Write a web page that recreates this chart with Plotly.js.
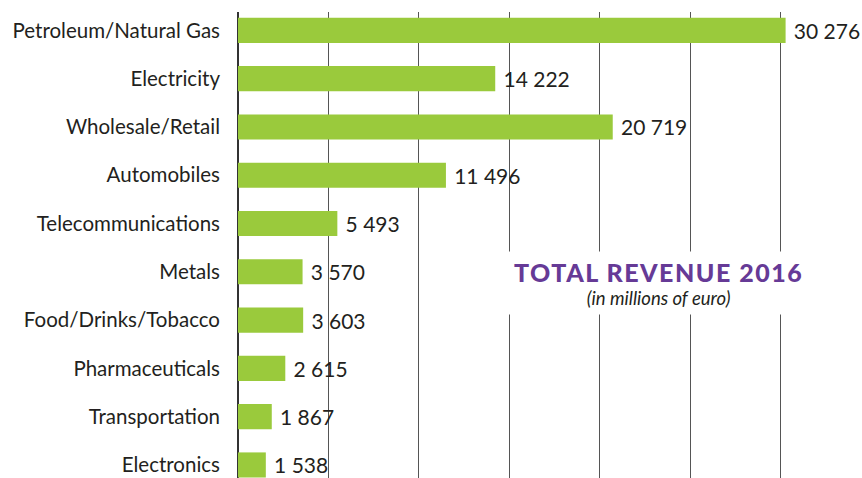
<!DOCTYPE html>
<html>
<head>
<meta charset="utf-8">
<script src="https://cdn.plot.ly/plotly-3.0.1.min.js"></script>
<style>html,body{margin:0;padding:0;background:#fff;}#chart{width:862px;height:478px;}</style>
</head>
<body>
<div id="chart"></div>
<script>
const categories = ["Petroleum/Natural Gas", "Electricity", "Wholesale/Retail", "Automobiles", "Telecommunications", "Metals", "Food/Drinks/Tobacco", "Pharmaceuticals", "Transportation", "Electronics"];
const revenue = [30276, 14222, 20719, 11496, 5493, 3570, 3603, 2615, 1867, 1538];
const valueLabels = revenue.map(v => "\u2005" + String(v).replace(/\B(?=(\d{3})+(?!\d))/g, "\u00a0"));

const trace = {
  type: "bar",
  orientation: "h",
  y: categories,
  x: revenue,
  text: valueLabels,
  textposition: "outside",
  textfont: {family: "Lato, sans-serif", size: 21, color: "#231f20"},
  cliponaxis: false,
  marker: {color: "#9aca3c"},
  hoverinfo: "none"
};

const layout = {
  width: 862, height: 478,
  margin: {l: 238, r: 0, t: 12, b: 0},
  paper_bgcolor: "#fff", plot_bgcolor: "#fff",
  showlegend: false,
  bargap: 0.48,
  font: {family: "Lato, sans-serif", color: "#231f20"},
  xaxis: {
    range: [0, 34500],
    dtick: 5000,
    showticklabels: false,
    showgrid: true, gridcolor: "#555", gridwidth: 1,
    zeroline: true, zerolinecolor: "#333", zerolinewidth: 1.5,
    showline: false, fixedrange: true
  },
  yaxis: {
    type: "category",
    range: [9.27, -0.38],
    showgrid: false, zeroline: false, showline: false,
    ticks: "",
    ticklabelstandoff: 17,
    tickfont: {family: "Lato, sans-serif", size: 20.5, color: "#231f20"},
    fixedrange: true
  },
  annotations: [{
    xref: "paper", yref: "paper",
    x: (658 - 238) / 624, y: (478 - 283) / 466,
    xanchor: "center", yanchor: "middle",
    showarrow: false,
    bgcolor: "#ffffff",
    borderpad: 5,
    align: "center",
    text: "<span style='font-size:25px;font-weight:900;color:#663a96;letter-spacing:1.5px'>TOTAL REVENUE 2016</span><br><span style='font-size:18.5px;font-style:italic;color:#231f20'>(in millions of euro)</span>",
    font: {family: "Lato, sans-serif", size: 18, color: "#231f20"}
  }]
};

Plotly.newPlot("chart", [trace], layout, {staticPlot: true, displayModeBar: false});
</script>
</body>
</html>
